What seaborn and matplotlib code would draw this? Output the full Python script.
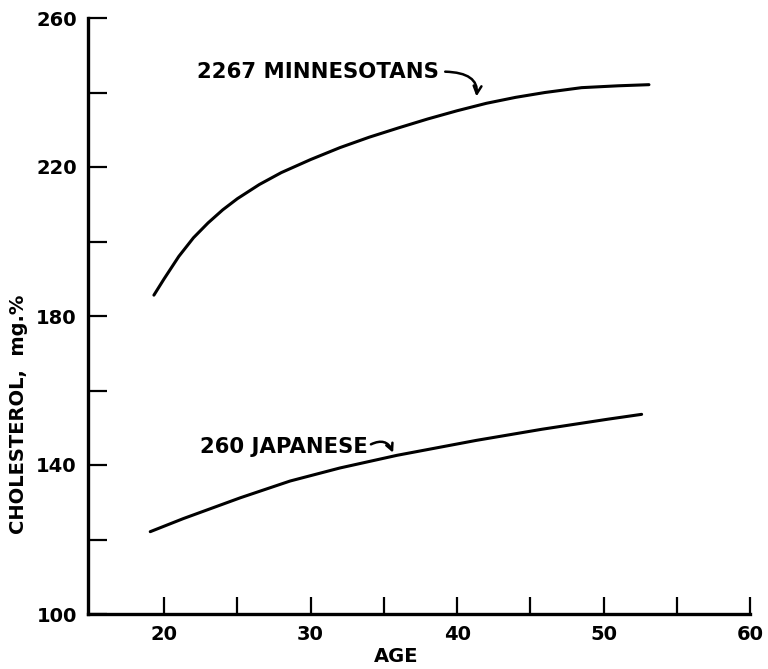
import matplotlib
matplotlib.use("Agg")
import matplotlib.pyplot as plt
import seaborn as sns
import pandas as pd

# Data
minn_age = [19.3, 20.0, 21.0, 22.0, 23.0, 24.0, 25.0, 26.5, 28.0, 30.0, 32.0, 34.0,
            36.0, 38.0, 40.0, 42.0, 44.0, 46.0, 48.5, 51.0, 53.1]
minn_chol = [185.6, 190.0, 196.0, 201.0, 205.0, 208.5, 211.5, 215.3, 218.5, 222.0, 225.2, 228.0,
             230.5, 232.9, 235.1, 237.1, 238.7, 240.0, 241.3, 241.8, 242.1]
jap_age = [19.05, 21.3, 25.2, 28.6, 32.0, 35.9, 41.3, 45.8, 50.3, 52.6]
jap_chol = [122.1, 125.6, 131.2, 135.7, 139.2, 142.6, 146.6, 149.6, 152.3, 153.6]
series_names = ["2267 MINNESOTANS", "260 JAPANESE"]
x_ticks = [20, 30, 40, 50, 60]
x_minor = [25, 35, 45, 55]
y_ticks = [100, 140, 180, 220, 260]
y_minor = [120, 160, 200, 240]

df = pd.concat([
    pd.DataFrame({"age": minn_age, "chol": minn_chol, "group": series_names[0]}),
    pd.DataFrame({"age": jap_age, "chol": jap_chol, "group": series_names[1]}),
])

sns.set_style("white")
plt.rcParams["font.family"] = ["DejaVu Sans"]
plt.rcParams["text.color"] = "black"
plt.rcParams["axes.labelcolor"] = "black"
plt.rcParams["xtick.color"] = "black"
plt.rcParams["ytick.color"] = "black"

fig = plt.figure(figsize=(7.68, 6.69), dpi=100)
ax = fig.add_axes([88 / 768, 1 - 614 / 669, (750 - 88) / 768, (614 - 18) / 669])

sns.lineplot(data=df, x="age", y="chol", units="group", estimator=None,
             color="black", linewidth=2.2, ax=ax, sort=False)

ax.set_xlim(14.8, 60)
ax.set_ylim(100, 260)

for s in ["top", "right"]:
    ax.spines[s].set_visible(False)
for s in ["left", "bottom"]:
    ax.spines[s].set_color("black")
    ax.spines[s].set_linewidth(2.4)

ax.set_xticks(x_ticks)
ax.set_xticks(x_minor, minor=True)
ax.set_yticks(y_ticks)
ax.set_yticks(y_minor, minor=True)
ax.set_xticklabels([str(v) for v in x_ticks], fontweight="bold")
ax.set_yticklabels([str(v) for v in y_ticks], fontweight="bold")

ax.tick_params(axis="x", which="both", direction="in", length=12, width=1.6,
               color="black", labelcolor="black", labelsize=14, pad=8, bottom=True)
ax.tick_params(axis="y", which="both", direction="in", length=14, width=1.6,
               color="black", labelcolor="black", labelsize=14, pad=8, left=True)
# taller tick at 45
for t in ax.xaxis.get_minor_ticks():
    if abs(t.get_loc() - 45) < 0.01:
        t.tick1line.set_markersize(19)

ax.set_xlabel("AGE", fontsize=14, fontweight="bold", color="black")
ax.xaxis.label.set_va("center")
ax.xaxis.set_label_coords(0.465, -0.071)
ax.set_ylabel("CHOLESTEROL,  mg.%", fontsize=14, fontweight="bold", color="black")
ax.yaxis.set_label_coords(-0.09, 0.335)

ax.text(22.25, 245.5, series_names[0], fontsize=15.3, fontweight="bold",
        va="center", ha="left", color="black")
ax.text(22.45, 144.8, series_names[1], fontsize=15.2, fontweight="bold",
        va="center", ha="left", color="black")

ax.annotate("", xy=(41.3, 238.2), xytext=(39.0, 245.6),
            arrowprops=dict(arrowstyle="->", color="black", lw=1.8,
                            connectionstyle="angle3,angleA=0,angleB=80",
                            mutation_scale=14))
ax.annotate("", xy=(35.7, 142.6), xytext=(33.95, 145.2),
            arrowprops=dict(arrowstyle="->", color="black", lw=1.8,
                            connectionstyle="arc3,rad=-0.6",
                            mutation_scale=12))

fig.savefig("out.png", dpi=100)
